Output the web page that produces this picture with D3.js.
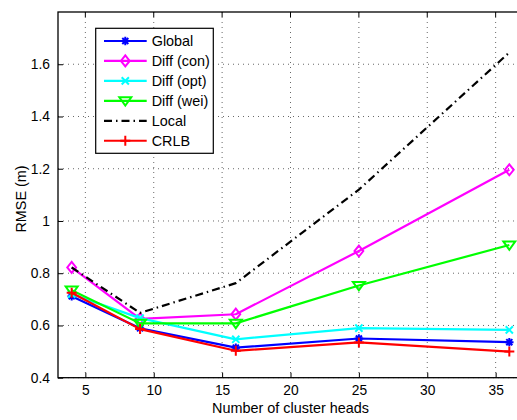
<!DOCTYPE html>
<html><head><meta charset="utf-8">
<script src="https://cdn.jsdelivr.net/npm/d3@7"></script>
<style>body{margin:0;background:#fff}svg{display:block}text{font-family:"Liberation Sans",Arial,sans-serif}</style>
</head><body><svg id="c" width="517" height="420"></svg>
<script>
const xValues = [4, 9, 16, 25, 36];
const globalVals = [0.712, 0.589, 0.515, 0.550, 0.536];
const diffCon    = [0.822, 0.625, 0.643, 0.885, 1.196];
const diffOpt    = [0.720, 0.628, 0.547, 0.590, 0.583];
const diffWei    = [0.735, 0.608, 0.608, 0.753, 0.908];
const localVals  = [0.822, 0.648, 0.762, 1.120, 1.645];
const crlbVals   = [0.725, 0.586, 0.503, 0.535, 0.500];
const seriesNames = ["Global", "Diff (con)", "Diff (opt)", "Diff (wei)", "Local", "CRLB"];
const xTicks = [5, 10, 15, 20, 25, 30, 35];
const yTicks = [0.4, 0.6, 0.8, 1.0, 1.2, 1.4, 1.6];

const series = [
  {name: seriesNames[0], vals: globalVals, color: "#0000ff", marker: "star"},
  {name: seriesNames[1], vals: diffCon, color: "#ff00ff", marker: "diamond"},
  {name: seriesNames[2], vals: diffOpt, color: "#00ffff", marker: "x"},
  {name: seriesNames[3], vals: diffWei, color: "#00ff00", marker: "tri"},
  {name: seriesNames[4], vals: localVals, color: "#000000", marker: "none", dash: "8,4,1.5,4"},
  {name: seriesNames[5], vals: crlbVals, color: "#ff0000", marker: "plus"}
];

const L = 58, T = 12, R = 523, B = 377.7;
const svg = d3.select("#c");
const x = d3.scaleLinear().domain([3, 37]).range([L, R]);
const y = d3.scaleLinear().domain([0.4, 1.8]).range([B, T]);

// grid
const g = svg.append("g");
xTicks.forEach(t => g.append("line").attr("x1", x(t)).attr("x2", x(t)).attr("y1", T).attr("y2", B)
  .attr("stroke", "#000").attr("stroke-width", 0.6).attr("stroke-dasharray", "1,4"));
yTicks.forEach(t => g.append("line").attr("x1", L).attr("x2", R).attr("y1", y(t)).attr("y2", y(t))
  .attr("stroke", "#000").attr("stroke-width", 0.6).attr("stroke-dasharray", "1,4"));

// axes
const xAxis = d3.axisBottom(x).tickValues(xTicks).tickSizeInner(-5).tickSizeOuter(0).tickPadding(8).tickFormat(d3.format("d"));
const yAxis = d3.axisLeft(y).tickValues(yTicks).tickSizeInner(-5).tickSizeOuter(0).tickPadding(8).tickFormat(d => d === 1 ? "1" : d3.format(".1f")(d));
const ga = svg.append("g").attr("transform", `translate(0,${B})`).call(xAxis);
const gb = svg.append("g").attr("transform", `translate(${L},0)`).call(yAxis);
[ga, gb].forEach(a => {
  a.select(".domain").remove();
  a.selectAll("text").attr("font-size", 13.8).attr("fill", "#000").attr("font-family", "'Liberation Sans',Arial,sans-serif");
  a.selectAll("line").attr("stroke", "#000");
});
// top ticks
xTicks.forEach(t => svg.append("line").attr("x1", x(t)).attr("x2", x(t)).attr("y1", T).attr("y2", T + 5).attr("stroke", "#000"));
svg.append("rect").attr("x", L).attr("y", T).attr("width", R - L).attr("height", B - T)
  .attr("fill", "none").attr("stroke", "#000").attr("stroke-width", 1.3);

// marker drawing
function drawMarker(sel, type, cx, cy, color) {
  const p = d3.path();
  if (type === "star") {
    const r = 4.2;
    p.moveTo(cx - r, cy); p.lineTo(cx + r, cy);
    p.moveTo(cx, cy - r); p.lineTo(cx, cy + r);
    const d = r * 0.72;
    p.moveTo(cx - d, cy - d); p.lineTo(cx + d, cy + d);
    p.moveTo(cx - d, cy + d); p.lineTo(cx + d, cy - d);
  } else if (type === "diamond") {
    const r = 5.5;
    p.moveTo(cx, cy - r); p.lineTo(cx + r * 0.8, cy); p.lineTo(cx, cy + r); p.lineTo(cx - r * 0.8, cy); p.closePath();
  } else if (type === "x") {
    const r = 3.6;
    p.moveTo(cx - r, cy - r); p.lineTo(cx + r, cy + r);
    p.moveTo(cx - r, cy + r); p.lineTo(cx + r, cy - r);
  } else if (type === "tri") {
    const r = 6;
    p.moveTo(cx - r, cy - r * 0.6); p.lineTo(cx + r, cy - r * 0.6); p.lineTo(cx, cy + r * 0.8); p.closePath();
  } else if (type === "plus") {
    const r = 5;
    p.moveTo(cx - r, cy); p.lineTo(cx + r, cy);
    p.moveTo(cx, cy - r); p.lineTo(cx, cy + r);
  } else return;
  sel.append("path").attr("d", p.toString()).attr("fill", "none").attr("stroke", color).attr("stroke-width", 2);
}

const line = d3.line().x(d => x(d[0])).y(d => y(d[1]));
const plot = svg.append("g");
series.forEach(s => {
  const pts = xValues.map((xv, i) => [xv, s.vals[i]]);
  plot.append("path").attr("d", line(pts)).attr("fill", "none").attr("stroke", s.color)
    .attr("stroke-width", 2.2).attr("stroke-dasharray", s.dash || null).attr("stroke-linejoin", "round");
  pts.forEach(pt => drawMarker(plot, s.marker, x(pt[0]), y(pt[1]), s.color));
});

// legend
const lg = svg.append("g");
lg.append("rect").attr("x", 95.7).attr("y", 28.3).attr("width", 117.6).attr("height", 125)
  .attr("fill", "#fff").attr("stroke", "#000").attr("stroke-width", 1.2);
series.forEach((s, i) => {
  const yy = 41 + i * 19.95;
  lg.append("line").attr("x1", 104).attr("x2", 146.7).attr("y1", yy).attr("y2", yy)
    .attr("stroke", s.color).attr("stroke-width", 2.2).attr("stroke-dasharray", s.dash || null);
  drawMarker(lg, s.marker, 125.3, yy, s.color);
  lg.append("text").attr("x", 151.7).attr("y", yy + 5).attr("font-size", 14.4).text(s.name);
});

// axis labels
svg.append("text").attr("x", 290.5).attr("y", 412.5).attr("text-anchor", "middle").attr("font-size", 14.4).text("Number of cluster heads");
svg.append("text").attr("transform", "translate(26,199) rotate(-90)").attr("text-anchor", "middle").attr("font-size", 14.4).text("RMSE (m)");
</script></body></html>
